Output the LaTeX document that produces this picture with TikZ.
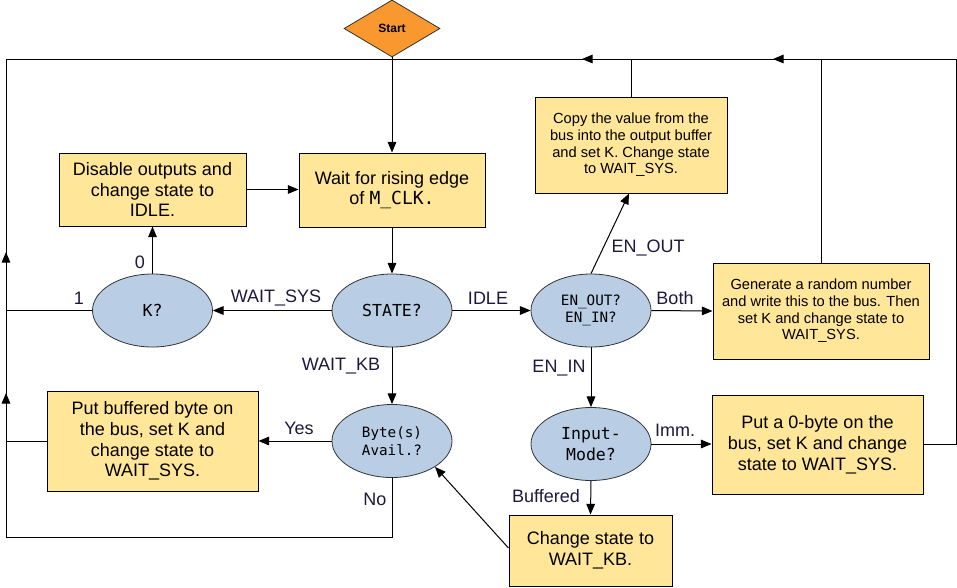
\documentclass[tikz,border=0pt]{standalone}
\usepackage{fontspec}
\setmainfont{Liberation Sans}
\setmonofont{DejaVu Sans Mono}
\usetikzlibrary{shapes.geometric,arrows.meta,calc}
\definecolor{boxfill}{RGB}{255,230,153}
\definecolor{ellfill}{RGB}{185,205,228}
\definecolor{startfill}{RGB}{250,152,48}
\definecolor{lbl}{RGB}{30,25,60}
\definecolor{ellline}{RGB}{50,50,50}
\begin{document}
\begin{tikzpicture}[x=0.75pt,y=-0.75pt,
  box/.style={draw=black, line width=0.75pt, fill=boxfill, align=center, inner sep=0pt, font=\fontsize{13.5}{15.6}\selectfont},
  sbox/.style={box, font=\fontsize{11}{12.5}\selectfont},
  dec/.style={ellipse, draw=ellline, line width=0.6pt, fill=ellfill, inner sep=0pt, minimum width=90pt, minimum height=54.75pt, align=center, font=\ttfamily\fontsize{12.4}{15.75}\selectfont},
  sdec/.style={dec, font=\ttfamily\fontsize{10.7}{13.3}\selectfont},
  arr/.style={-{Triangle[length=8pt,width=6.5pt]}},
  conn/.style={line width=0.75pt, draw=black},
  lab/.style={text=lbl, font=\fontsize{13.5}{15.6}\selectfont, inner sep=0pt}
]
\useasboundingbox (0,0) rectangle (957,587);

% nodes
\node[diamond, draw=ellline, line width=0.6pt, fill=startfill, minimum width=72pt, minimum height=42.75pt, inner sep=0pt, font=\bfseries\fontsize{9}{10}\selectfont] (start) at (392,28.5) {Start};

\node[box, minimum width=139.5pt, minimum height=55.5pt] (wait) at (392,190) {Wait for rising edge\\of \texttt{M\_CLK.}};
\node[box, minimum width=140.25pt, minimum height=54.75pt] (disable) at (152.5,189.5) {Disable outputs and\\change state to\\IDLE.};
\node[sbox, minimum width=144pt, minimum height=72pt] (copy) at (631,145) {Copy the value from the\\bus into the output buffer\\and set K. Change state\\to WAIT\_SYS.};
\node[sbox, minimum width=162pt, minimum height=72pt] (generate) at (821,311) {Generate a random number\\and write this to the bus. Then\\set K and change state to\\WAIT\_SYS.};
\node[box, minimum width=158.25pt, minimum height=75pt] (putbuf) at (152.5,441) {Put buffered byte on\\the bus, set K and\\change state to\\WAIT\_SYS.};
\node[box, minimum width=158.25pt, minimum height=74.25pt] (put0) at (817.5,444.5) {Put a 0-byte on the\\bus, set K and change\\state to WAIT\_SYS.};
\node[box, minimum width=122.25pt, minimum height=53.25pt] (change) at (590.5,550.5) {Change state to\\WAIT\_KB.};

\node[dec] (k) at (152.5,310.5) {K?};
\node[dec] (state) at (392,310.5) {STATE?};
\node[sdec] (enq) at (591,310.5) {EN\_OUT?\\EN\_IN?};
\node[sdec] (byte) at (392,441) {Byte(s)\\Avail.?};
\node[dec] (input) at (591,444) {Input-\\Mode?};

% coordinates
\coordinate (tl) at (6,59);
\coordinate (tr) at (956,59);
\coordinate (bl) at (6,537);
\coordinate (la1) at (6,252);
\coordinate (la2) at (6,393);
\coordinate (ta1) at (582,59);
\coordinate (ta2) at (773,59);

% loop lines
\draw[conn] (bl) -- (tl) -- (tr) |- (put0.east);
\draw[conn] (byte.south) |- (bl);
\draw[conn,arr] (bl) -- (la2);
\draw[conn,arr] (bl) -- (la1);
\draw[conn,arr] (tr) -- (ta2);
\draw[conn,arr] (tr) -- (ta1);
\draw[conn] (putbuf.west) -- (putbuf.west -| tl);
\draw[conn] (k.west) -- (k.west -| tl);
\draw[conn] (copy.north) -- (copy.north |- tl);
\draw[conn] (generate.north) -- (generate.north |- tl);

% flow
\draw[conn,arr] (start.south) -- (wait.north);
\draw[conn,arr] (disable.east) -- (disable.east -| wait.west);
\draw[conn,arr] (wait.south) -- (state.north);
\draw[conn,arr] (k.north) -- (disable.south);
\draw[conn,arr] (state.west) -- (k.east);
\draw[conn,arr] (state.east) -- (enq.west);
\draw[conn,arr] (state.south) -- (byte.north);
\draw[conn,arr] (byte.west) -- (putbuf.east);
\draw[conn,arr] (enq.east) -- (generate.west);
\draw[conn,arr] (enq.south) -- (input.north);
\draw[conn,arr] (enq.north) -- ($(copy.south)+(-2,0)$);
\draw[conn,arr] (input.east) -- (input.east -| put0.west);
\draw[conn,arr] (input.south) -- (change.north);
\draw[conn,arr] ($(change.west)+(0,-2.5)$) -- (byte.-31);

% labels
\node[lab] (l1) at (79,298) {1};
\node[lab] (l0) at (140,262) {0};
\node[lab] (lws) at (276,298) {WAIT\_SYS};
\node[lab] (lidle) at (488,298) {IDLE};
\node[lab] (lwkb) at (341,366) {WAIT\_KB};
\node[lab] (lenout) at (648,248) {EN\_OUT};
\node[lab] (lboth) at (675,298) {Both};
\node[lab] (lenin) at (559,368) {EN\_IN};
\node[lab] (lyes) at (299,428) {Yes};
\node[lab] (lno) at (375,499) {No};
\node[lab] (limm) at (675,430) {Imm.};
\node[lab] (lbuf) at (546,496) {Buffered};
\end{tikzpicture}
\end{document}
